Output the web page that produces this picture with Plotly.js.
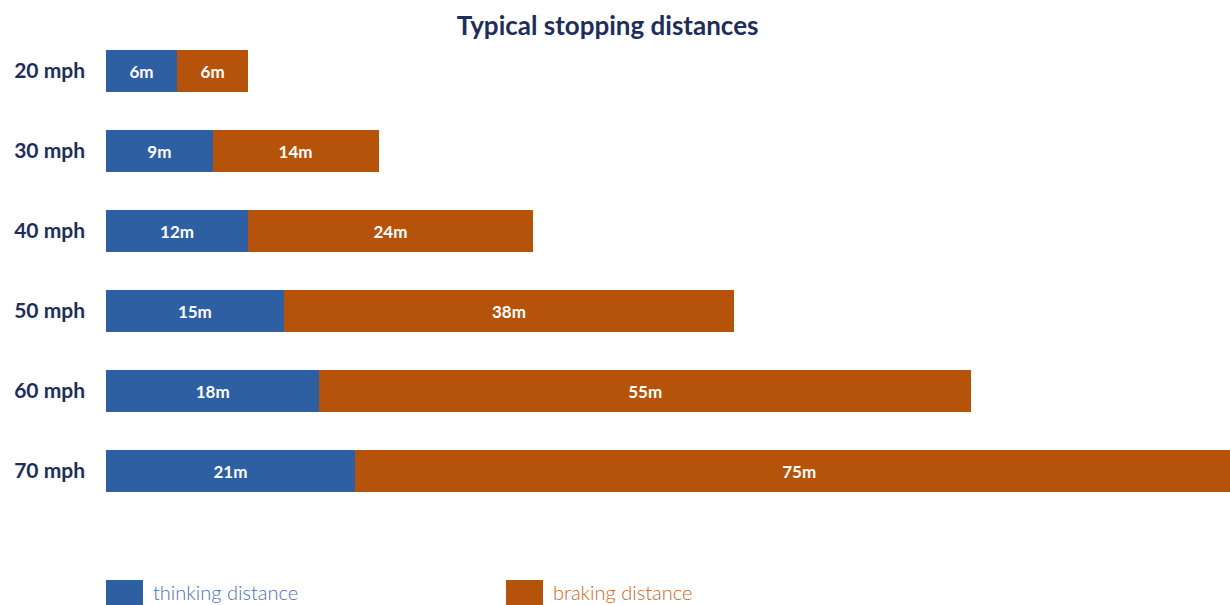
<!DOCTYPE html>
<html>
<head>
<meta charset="utf-8">
<script src="https://cdn.plot.ly/plotly-3.0.1.min.js"></script>
<style>html,body{margin:0;padding:0;background:#fff;}#chart{width:1230px;height:605px;}</style>
</head>
<body>
<div id="chart"></div>
<script>
const speeds = ["20 mph", "30 mph", "40 mph", "50 mph", "60 mph", "70 mph"];
const thinking = [6, 9, 12, 15, 18, 21];
const braking = [6, 14, 24, 38, 55, 75];
const seriesNames = ["thinking distance", "braking distance"];
const colors = ["#2e5fa3", "#b5530b"];
const legendTextColors = ["#4a71ad", "#c2682c"];
const xMax = 94.85; // visible axis extent (the 70 mph bar runs past the right edge)

const textFont = {family: "Lato, 'Open Sans', sans-serif", size: 17, color: "#ffffff", weight: 700};

const traces = [thinking, braking].map((vals, i) => ({
  type: "bar",
  orientation: "h",
  y: speeds,
  x: vals,
  name: seriesNames[i],
  marker: {color: colors[i], line: {width: 0}},
  texttemplate: "%{x}m",
  textposition: "inside",
  insidetextanchor: "middle",
  textangle: 0,
  constraintext: "none",
  textfont: textFont,
  hoverinfo: "skip",
  showlegend: false
}));

const shapes = [];
const annotations = [];
const legendX = [0, 0.3559];
seriesNames.forEach((n, i) => {
  shapes.push({type: "rect", xref: "paper", yref: "paper",
    x0: legendX[i], x1: legendX[i] + 0.0329, y0: -0.2, y1: -0.14375,
    fillcolor: colors[i], line: {width: 0}});
  annotations.push({xref: "paper", yref: "paper", x: legendX[i] + 0.0400, y: -0.168,
    xanchor: "left", yanchor: "middle", showarrow: false, text: n,
    font: {family: "Lato, 'Open Sans', sans-serif", size: 20, color: legendTextColors[i], weight: 300}});
});

const layout = {
  width: 1230, height: 605,
  margin: {l: 106, r: 0, t: 31, b: 94, pad: 0},
  paper_bgcolor: "#ffffff", plot_bgcolor: "#ffffff",
  barmode: "stack",
  bargap: 0.485,
  title: {text: "<b>Typical stopping distances</b>", x: 0.494, xanchor: "center", y: 0.957, yanchor: "middle",
    font: {family: "Lato, 'Open Sans', sans-serif", size: 26, color: "#1f2d5a"}},
  xaxis: {range: [0, xMax], visible: false, fixedrange: true},
  yaxis: {autorange: "reversed", type: "category", showgrid: false, zeroline: false, showline: false,
    ticks: "", ticklabelstandoff: 20,
    tickfont: {family: "Lato, 'Open Sans', sans-serif", size: 21, color: "#1f2d5a", weight: 700}},
  shapes: shapes,
  annotations: annotations,
  showlegend: false
};

Plotly.newPlot("chart", traces, layout, {displayModeBar: false, staticPlot: true});
</script>
</body>
</html>
